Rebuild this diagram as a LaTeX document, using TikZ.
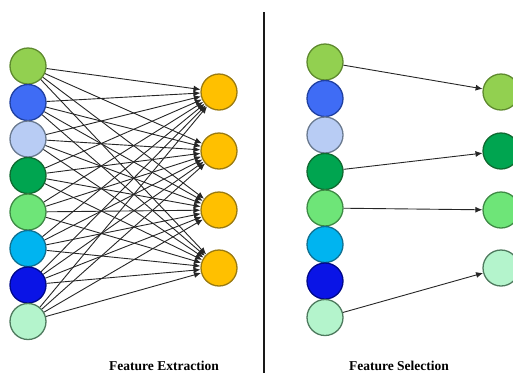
\documentclass[tikz,border=0pt]{standalone}
\usepackage{fontspec}
\setmainfont{Liberation Serif}
\usetikzlibrary{arrows.meta}
\definecolor{cA}{HTML}{92D050}\definecolor{bA}{HTML}{5E8A2E}
\definecolor{cB}{HTML}{3F6CF5}\definecolor{bB}{HTML}{2040A0}
\definecolor{cC}{HTML}{B8CCF4}\definecolor{bC}{HTML}{6A7A90}
\definecolor{cD}{HTML}{00A550}\definecolor{bD}{HTML}{106A30}
\definecolor{cE}{HTML}{6EE578}\definecolor{bE}{HTML}{3E8A45}
\definecolor{cF}{HTML}{00B4F0}\definecolor{bF}{HTML}{107090}
\definecolor{cG}{HTML}{0A14E6}\definecolor{bG}{HTML}{00088A}
\definecolor{cH}{HTML}{B4F4CC}\definecolor{bH}{HTML}{4E7A5E}
\definecolor{cO}{HTML}{FFC000}\definecolor{bO}{HTML}{9A7A10}
\tikzset{
  feat/.style={circle,minimum size=36pt,inner sep=0pt,line width=1.3pt},
  conn/.style={-{Latex[length=7pt,width=6pt]},line width=0.9pt,black!85},
  captext/.style={font=\bfseries\fontsize{13.5}{15}\selectfont,anchor=base}
}
\begin{document}
\begin{tikzpicture}[x=1pt,y=-1pt]
\useasboundingbox (0,0) rectangle (513,373);
% left panel inputs
\foreach \i/\c/\y in {1/A/66,2/B/102.5,3/C/139,4/D/175.5,5/E/212,6/F/248.5,7/G/285,8/H/321.5}{
  \node[feat,fill=c\c,draw=b\c] (L\i) at (28,\y) {};
}
\foreach \j/\y in {1/92,2/151,3/210,4/268}{
  \node[feat,fill=cO,draw=bO] (O\j) at (219,\y) {};
}
\foreach \i in {1,...,8}{
  \foreach \j in {1,...,4}{
    \draw[conn] (L\i) -- (O\j);
  }
}
% right panel
\foreach \i/\c/\y in {1/A/62,2/B/98.5,3/C/135,4/D/171.5,5/E/208,6/F/244.5,7/G/281,8/H/317.5}{
  \node[feat,fill=c\c,draw=b\c] (R\i) at (325,\y) {};
}
\node[feat,fill=cA,draw=bA] (S1) at (501,92) {};
\node[feat,fill=cD,draw=bD] (S2) at (501,151) {};
\node[feat,fill=cE,draw=bE] (S3) at (501,210) {};
\node[feat,fill=cH,draw=bH] (S4) at (501,268) {};
\draw[conn] (R1) -- (S1);
\draw[conn] (R4) -- (S2);
\draw[conn] (R5) -- (S3);
\draw[conn] (R8) -- (S4);
% divider
\coordinate (dT) at (264,12);
\coordinate (dB) at (264,373);
\draw[line width=2.6pt,black!90] (dT) -- (dB);
% captions
\node[captext] (t1) at (164,370) {Feature Extraction};
\node[captext] (t2) at (399,370) {Feature Selection};
\end{tikzpicture}
\end{document}
